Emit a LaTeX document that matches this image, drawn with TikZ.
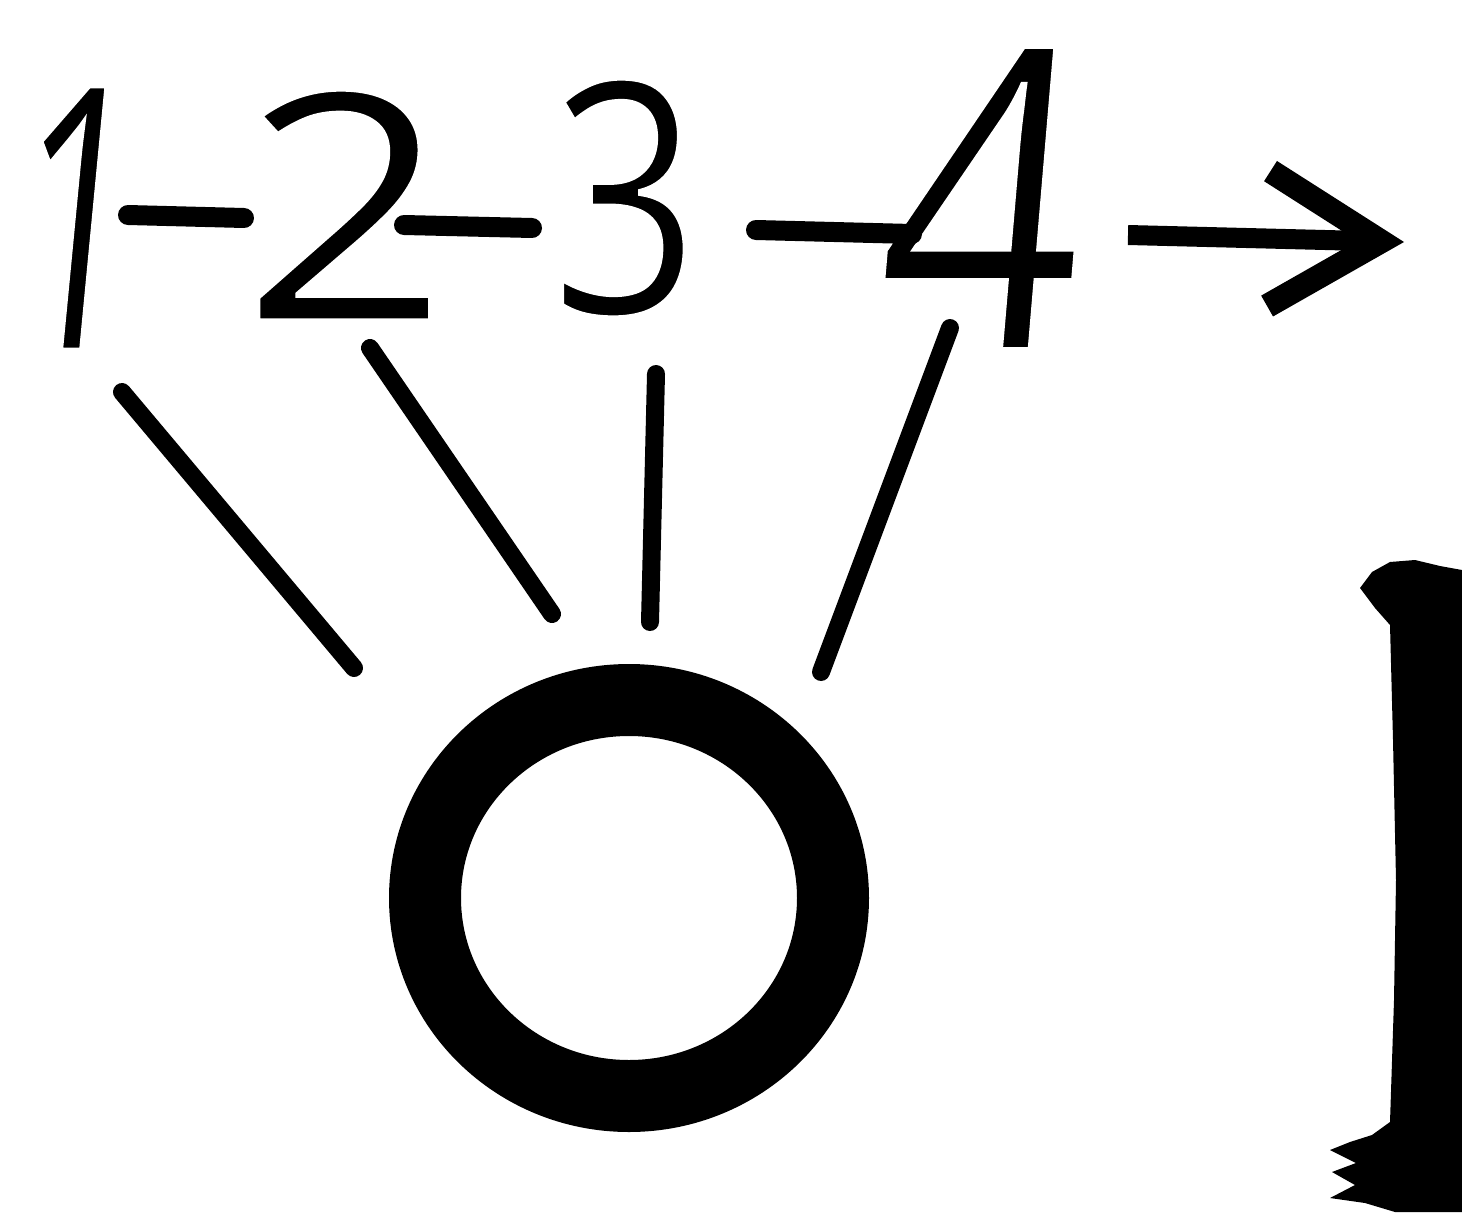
\documentclass[tikz,border=0pt]{standalone}
\usepackage{fontspec}
\setmainfont{Noto Sans}
\usetikzlibrary{arrows.meta,shapes.geometric}
\newcommand\thinglyph[2]{\special{pdf:literal direct 2 Tr 1 G #1 w}#2\special{pdf:literal direct 0 Tr 0 G 1 w}}
\tikzset{
  digit/.style={inner sep=0pt, outer sep=0pt, anchor=center, text=black, transform shape},
  pen/.style={line width=20pt, line cap=round, black},
  spoke/.style={line width=18pt, line cap=round, black},
  ring/.style={line width=72pt, black},
}
\begin{document}
\begin{tikzpicture}[x=1pt,y=-1pt]
\useasboundingbox (0,0) rectangle (1462,1218);
\fill[white] (0,0) rectangle (1462,1218);
% digits
\node[digit, xscale=0.6, xslant=0.16] (d1) at (78,218) {\fontsize{370}{370}\selectfont\thinglyph{5}{1}};
\node[digit, xscale=1.15] (d2) at (345,205) {\fontsize{320}{320}\selectfont\thinglyph{5}{2}};
\node[digit, xscale=0.8] (d3) at (625,198) {\fontsize{328}{328}\selectfont\thinglyph{6}{3}};
\node[digit, xscale=0.85, xslant=0.1] (d4) at (985,198) {\fontsize{425}{425}\selectfont\thinglyph{7}{4}};
% dash ends
\coordinate (a1) at (128,215);
\coordinate (b1) at (244,218);
\coordinate (a2) at (404,225);
\coordinate (b2) at (532,228);
\coordinate (a3) at (756,230);
\coordinate (b3) at (912,234);
\coordinate (a4) at (1128,235);
\coordinate (b4) at (1404,242);
\draw[pen] (a1) -- (b1);
\draw[pen] (a2) -- (b2);
\draw[pen] (a3) -- (b3);
\draw[pen, line cap=butt, -{Straight Barb[length=112pt,width=135pt,line width=24pt]}] (a4) -- (b4);
% spokes
\coordinate (s1a) at (122,392);
\coordinate (s1b) at (354,668);
\coordinate (s2a) at (370,348);
\coordinate (s2b) at (552,614);
\coordinate (s3a) at (656,374);
\coordinate (s3b) at (650,622);
\coordinate (s4a) at (950,328);
\coordinate (s4b) at (821,672);
\draw[spoke] (s1a) -- (s1b);
\draw[spoke] (s2a) -- (s2b);
\draw[spoke] (s3a) -- (s3b);
\draw[spoke] (s4a) -- (s4b);
% ring
\node[draw, ring, ellipse, minimum width=408pt, minimum height=396pt, inner sep=0pt] (o) at (629,898) {};
% right bar
\fill[black] (1360,588) -- (1372,572) -- (1390,562) -- (1415,560) -- (1440,566) -- (1462,570)
  -- (1462,1212) -- (1395,1212) -- (1365,1203) -- (1330,1198) -- (1355,1185) -- (1332,1172)
  -- (1356,1163) -- (1330,1150) -- (1350,1142) -- (1372,1135) -- (1390,1122) -- (1394,1000)
  -- (1396,880) -- (1393,740) -- (1390,625) -- (1375,608) -- cycle;
\end{tikzpicture}
\end{document}
